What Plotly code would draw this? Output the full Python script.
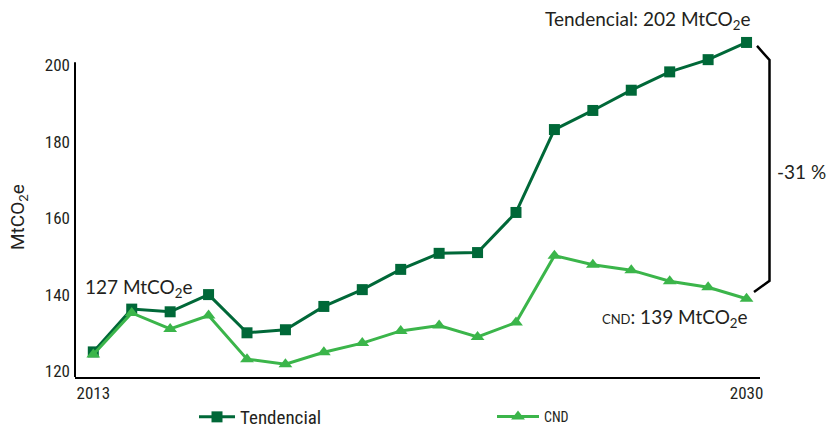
import plotly.graph_objects as go

years = list(range(2013, 2031))
tendencial = [125.0, 136.2, 135.5, 140.0, 130.0, 130.8, 136.9, 141.3, 146.6, 150.8,
              151.0, 161.5, 183.2, 188.2, 193.5, 198.3, 201.5, 206.0]
cnd = [124.3, 135.2, 131.0, 134.5, 123.1, 121.8, 124.9, 127.3, 130.5, 131.9,
       128.9, 132.7, 150.2, 147.8, 146.4, 143.5, 141.9, 138.9]
y_ticks = [120, 140, 160, 180, 200]
x_ticks = [2013, 2030]

DARK = "#006838"
LIGHT = "#3BB54A"
TXT = "#231F20"
COND = "Liberation Sans Narrow, Roboto Condensed, DejaVu Sans Condensed, sans-serif"
HUM = "Lato, Open Sans, Noto Sans, sans-serif"

W, H = 829, 430
L, R, T, B = 75, 69, 30, 53
pw, ph = W - L - R, H - T - B

def px_x(px):
    return (px - L) / pw

def px_y(py):
    return (H - B - py) / ph

fig = go.Figure()
fig.add_trace(go.Scatter(x=years, y=tendencial, name="Tendencial", mode="lines+markers",
                         line=dict(color=DARK, width=3),
                         marker=dict(symbol="square", size=11, color=DARK),
                         legend="legend"))
fig.add_trace(go.Scatter(x=years, y=cnd, name="CND", mode="lines+markers",
                         line=dict(color=LIGHT, width=3),
                         marker=dict(symbol="triangle-up", size=12, color=LIGHT),
                         legend="legend2"))

ymin, ymax = 118.43, 209.26
fig.update_layout(
    width=W, height=H,
    margin=dict(l=L, r=R, t=T, b=B, autoexpand=False),
    plot_bgcolor="white", paper_bgcolor="white",
    showlegend=True,
    xaxis=dict(range=[2012.524, 2030.35], tickvals=x_ticks, ticktext=[str(v) for v in x_ticks],
               showgrid=False, zeroline=False, showline=True, linecolor="black", linewidth=2,
               ticks="", tickfont=dict(family=COND, size=17, color=TXT)),
    yaxis=dict(range=[ymin, ymax], tickvals=y_ticks, showgrid=False, zeroline=False,
               showline=False, ticks="", ticklabelstandoff=4,
               tickfont=dict(family=COND, size=17, color=TXT)),
    legend=dict(orientation="h", x=px_x(194), y=px_y(417), xanchor="left", yanchor="middle",
                itemwidth=36,
                font=dict(family=COND, size=19, color=TXT), bgcolor="rgba(0,0,0,0)"),
    legend2=dict(orientation="h", x=px_x(492), y=px_y(417), xanchor="left", yanchor="middle",
                 itemwidth=42,
                 font=dict(family=COND, size=14, color=TXT), bgcolor="rgba(0,0,0,0)"),
)

# y axis line (stops at ~201)
fig.add_shape(type="line", xref="paper", yref="y", x0=0, x1=0, y0=ymin, y1=200.85,
              line=dict(color="black", width=2))

# bracket
top_y = tendencial[-1] - 0.9
bot_y = cnd[-1] + 1.8
fig.add_shape(type="path", xref="paper", yref="y",
              path=f"M {px_x(757)},{top_y} L {px_x(769.5)},{top_y - 3.7} "
                   f"L {px_x(769.5)},{bot_y + 2.9} L {px_x(754)},{bot_y}",
              line=dict(color="black", width=2.5))

ann_font = dict(family=HUM, size=19, color=TXT)
fig.add_annotation(xref="paper", yref="paper", x=px_x(753), y=px_y(20), xanchor="right",
                   yanchor="middle", text="Tendencial: 202 MtCO<sub>2</sub>e", showarrow=False,
                   font=ann_font)
fig.add_annotation(xref="paper", yref="paper", x=px_x(750), y=px_y(318), xanchor="right",
                   yanchor="middle",
                   text="<span style='font-size:13px'>CND</span>: 139 MtCO<sub>2</sub>e",
                   showarrow=False, font=ann_font)
fig.add_annotation(xref="paper", yref="paper", x=px_x(83), y=px_y(288), xanchor="left",
                   yanchor="middle", text="127 MtCO<sub>2</sub>e", showarrow=False,
                   font=ann_font)
fig.add_annotation(xref="paper", yref="paper", x=px_x(775), y=px_y(171), xanchor="left",
                   yanchor="middle", text="-31 %", showarrow=False, font=ann_font)
fig.add_annotation(xref="paper", yref="paper", x=px_x(18), y=px_y(217), xanchor="center",
                   yanchor="middle", text="MtCO<sub>2</sub>e", textangle=-90, showarrow=False,
                   font=dict(family="Roboto, sans-serif", size=19, color=TXT))

fig.write_html("out.html")
